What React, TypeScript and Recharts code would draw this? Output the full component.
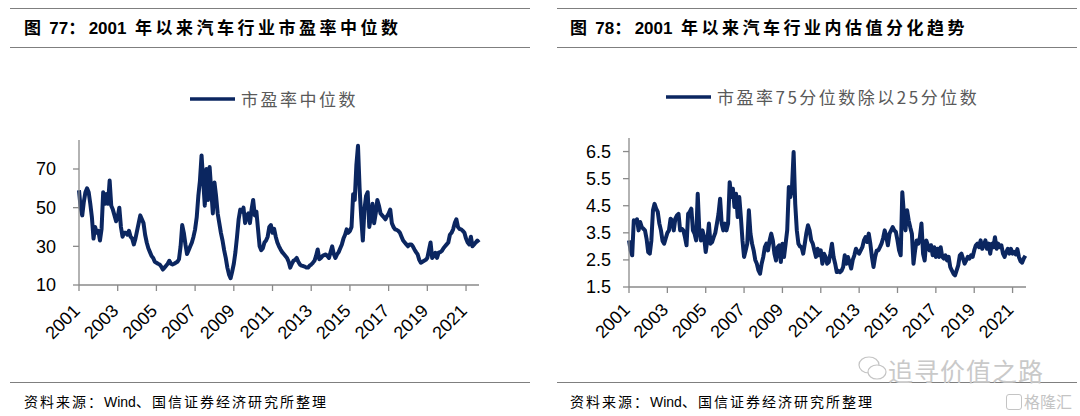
import React from 'react';
import { LineChart, Line, XAxis, YAxis, Legend } from 'recharts';

const START_YEAR = 2001;
const yearTicks = [2001, 2003, 2005, 2007, 2009, 2011, 2013, 2015, 2017, 2019, 2021];
const peTicks = [10, 30, 50, 70];
const spreadTicks = [1.5, 2.5, 3.5, 4.5, 5.5, 6.5];

// 汽车行业市盈率中位数 (monthly, from 2001-01)
const peMedian = [
  59, 50, 46, 53, 58, 60, 58, 52, 45, 34, 40, 37,
  38, 33, 39, 58, 52, 57, 52, 64, 51, 49, 46, 43,
  45, 50, 40, 35, 37, 37, 36, 38, 35, 34, 31, 34,
  38, 42, 46, 44, 42, 36, 32, 29, 27, 25, 24, 22,
  21.5, 21, 20.6, 19.5, 18, 19, 20, 21, 22.5, 21, 20.6, 21,
  21.5, 22, 23.3, 30, 41, 37, 31, 26, 28, 30, 32, 35,
  38.8, 45, 56, 64, 77, 64, 51, 70, 54, 71, 59, 47,
  63, 56, 47, 42, 37, 33, 28, 24, 19, 15.5, 13.5, 17,
  21, 27, 35, 44, 49, 48, 50, 42, 46, 47, 42, 49,
  54, 46, 48, 39, 30, 28, 29, 32, 33, 35, 40, 41,
  37, 39, 35, 32, 30, 28.4, 27, 26, 25, 24, 22, 19,
  21, 22.5, 23, 24, 22, 20.6, 20, 19.8, 19.5, 19, 19, 20,
  20.6, 21.5, 22.5, 25, 28.4, 23.3, 24, 25, 25.5, 25.8, 25, 24,
  27, 30, 26, 24, 25.8, 27, 29, 31, 34, 36, 38.8, 37,
  38, 40, 57, 54, 72, 82, 60, 45, 33, 49, 56, 58,
  40, 45, 52, 42, 47, 54, 51, 47, 46, 45, 44, 45.6,
  47, 49, 42, 40, 38.8, 38.5, 38, 37, 35, 33, 32, 31,
  30, 31, 31, 30, 28.4, 27, 25.8, 23, 21.5, 22, 22.5, 23,
  24, 28, 32, 24, 25, 26.7, 24, 26.7, 27, 27.6, 29, 30,
  31, 32, 36, 37, 38.8, 42, 44, 40, 39, 38.8, 38, 37,
  34, 32, 31, 35, 30, 31, 32, 33, 32,
];

// 市盈率75分位数除以25分位数 (monthly, from 2001-01)
const peSpread = [
  3.22, 2.85, 2.67, 3.96, 3.9, 4.0, 3.59, 3.9, 3.71, 3.65, 3.59, 3.28,
  2.79, 2.73, 3.22, 4.33, 4.57, 4.39, 4.27, 3.84, 3.59, 3.2, 3.1, 3.3,
  3.5, 3.59, 4.02, 3.96, 3.59, 4.02, 4.14, 4.2, 3.59, 3.65, 3.59, 3.34,
  3.04, 4.2, 4.27, 4.39, 3.59, 3.47, 3.22, 4.94, 3.59, 3.22, 3.59, 3.34,
  2.79, 3.22, 3.84, 3.1, 3.16, 3.34, 3.5, 3.84, 4.2, 4.76, 3.84, 3.59,
  3.84, 3.59, 3.84, 5.37, 4.82, 5.13, 4.45, 4.94, 4.08, 4.82, 4.08, 3.22,
  2.61, 2.85, 3.1, 4.33, 3.47, 3.1, 2.85, 2.5, 2.36, 2.11, 1.99, 2.36,
  2.61, 2.97, 3.1, 2.85, 3.22, 3.47, 3.22, 2.73, 2.48, 2.97, 3.04, 2.42,
  3.1, 2.61, 3.1, 3.6, 5.19, 4.82, 5.19, 6.48, 4.57, 3.59, 3.1, 3.0,
  2.97, 2.73, 3.1, 3.5, 3.78, 3.59, 3.22, 3.1, 2.85, 2.61, 2.91, 2.67,
  2.85, 2.36, 2.73, 2.61, 2.36, 2.42, 2.73, 3.1, 2.61, 2.36, 2.05, 2.1,
  2.05, 2.1, 2.24, 2.67, 2.36, 2.61, 2.4, 2.18, 2.5, 2.67, 2.91, 2.8,
  2.73, 2.85, 2.97, 3.22, 3.34, 3.16, 3.47, 3.1, 2.61, 2.24, 2.61, 2.85,
  2.85, 2.97, 3.1, 3.3, 3.59, 3.34, 3.04, 3.47, 3.59, 3.71, 3.59, 3.53,
  3.22, 2.85, 2.67, 5.0, 4.2, 3.59, 4.33, 3.96, 3.7, 3.47, 2.36, 2.85,
  3.22, 3.1, 3.34, 3.84, 2.73, 2.48, 3.22, 3.04, 2.85, 3.04, 2.67, 2.97,
  2.61, 2.91, 2.61, 2.97, 2.61, 2.55, 2.67, 2.48, 2.61, 2.24, 2.11, 1.99,
  1.93, 2.11, 2.3, 2.67, 2.73, 2.55, 2.36, 2.48, 2.61, 2.55, 2.67, 2.61,
  2.85, 3.04, 3.1, 2.97, 3.22, 2.91, 3.04, 3.22, 2.91, 3.1, 2.73, 3.1,
  2.97, 3.34, 2.91, 3.1, 2.97, 3.04, 2.73, 2.61, 2.79, 2.91, 2.73, 2.91,
  2.73, 2.8, 2.7, 2.9, 2.6, 2.45, 2.4, 2.55, 2.65,
];

const monthLabels = peMedian.map(
  (_, i) => `${START_YEAR + Math.floor(i / 12)}-${String((i % 12) + 1).padStart(2, '0')}`
);
const toYear = (label: string) => {
  const [y, m] = label.split('-').map(Number);
  return y + (m - 1) / 12;
};

const peData = monthLabels.map((d, i) => ({ date: d, t: toYear(d), value: peMedian[i] }));
const spreadData = monthLabels.map((d, i) => ({ date: d, t: toYear(d), value: peSpread[i] }));

const LINE = '#0b2660';
const AXIS = '#8a8a8a';
const NUM_FONT = '"Liberation Sans", Arial, sans-serif';
const CJK_FONT = '"Noto Sans CJK SC", sans-serif';
const MIX_FONT = '"Liberation Sans", Arial, "Noto Sans CJK SC", sans-serif';

const makeTick = (dx: number, dy: number) => (props: any) => {
  const { x, y, payload } = props;
  const ax = x + dx;
  const ay = y + dy;
  return (
    <text
      x={ax}
      y={ay}
      textAnchor="end"
      transform={`rotate(-45 ${ax} ${ay})`}
      fontSize={18}
      fontFamily={NUM_FONT}
      fill="#000"
    >
      {payload.value}
    </text>
  );
};

// letter spacing only on CJK runs, Latin runs kept tight
const Spaced = ({ text, cjk }: { text: string; cjk: number }) => (
  <>
    {text
      .split(/([\u0000-\u00ff\u2002]+)/)
      .filter((s) => s.length > 0)
      .map((seg, i) => (
        <span key={i} style={{ letterSpacing: /^[\u0000-\u00ff\u2002]+$/.test(seg) ? 0 : cjk }}>
          {seg}
        </span>
      ))}
  </>
);

const LegendContent = ({ label }: { label: string }) => (
  <div style={{ display: 'flex', alignItems: 'center', whiteSpace: 'nowrap', lineHeight: '20px' }}>
    <svg width={45} height={8} style={{ display: 'block' }}>
      <line x1={0} y1={4} x2={45} y2={4} stroke={LINE} strokeWidth={3.5} />
    </svg>
    <span style={{ marginLeft: 6, fontSize: 17, letterSpacing: 2.5, color: '#595959', fontFamily: CJK_FONT }}>
      {label}
    </span>
  </div>
);

const Rule = ({ left, top, width }: { left: number; top: number; width: number }) => (
  <div style={{ position: 'absolute', left, top, width, height: 1, background: '#7f7f7f' }} />
);

const titleStyle: React.CSSProperties = {
  position: 'absolute',
  top: 17,
  fontSize: 17,
  fontWeight: 700,
  lineHeight: '24px',
  whiteSpace: 'pre',
  color: '#000',
  fontFamily: MIX_FONT,
};

const sourceStyle: React.CSSProperties = {
  position: 'absolute',
  top: 392,
  fontSize: 14,
  lineHeight: '20px',
  whiteSpace: 'nowrap',
  color: '#000',
  fontFamily: MIX_FONT,
};

const axisProps = {
  axisLine: { stroke: AXIS, strokeWidth: 1.3 },
  tickLine: { stroke: AXIS, strokeWidth: 1.3 },
  tickSize: 6,
  interval: 0 as const,
};

export default function App() {
  return (
    <div
      style={{
        position: 'absolute',
        left: 0,
        top: 0,
        width: 1080,
        height: 416,
        background: '#fff',
        overflow: 'hidden',
      }}
    >
      <Rule left={10} top={8} width={520} />
      <Rule left={10} top={47} width={520} />
      <Rule left={557} top={8} width={520} />
      <Rule left={557} top={47} width={520} />
      <div style={{ ...titleStyle, left: 24 }}>
        <Spaced text={'图 77：2001\u2002年以来汽车行业市盈率中位数'} cjk={3.5} />
      </div>
      <div style={{ ...titleStyle, left: 570 }}>
        <Spaced text={'图 78：2001\u2002年以来汽车行业内估值分化趋势'} cjk={3.5} />
      </div>

      <div style={{ position: 'absolute', left: 0, top: 0 }}>
        <LineChart width={540} height={416} data={peData} margin={{ top: 140, right: 61, bottom: 91, left: 29 }}>
          <XAxis
            dataKey="t"
            type="number"
            domain={[2001, 2021.67]}
            ticks={yearTicks}
            height={40}
            tick={makeTick(2, 19)}
            {...axisProps}
          />
          <YAxis
            type="number"
            domain={[10, 85]}
            ticks={peTicks}
            width={50}
            tickMargin={17}
            tick={{ fontSize: 18, fill: '#000', fontFamily: NUM_FONT }}
            {...axisProps}
          />
          <Legend
            verticalAlign="middle"
            align="center"
            layout="horizontal"
            wrapperStyle={{ left: 190, top: 89, width: 300 }}
            content={() => <LegendContent label="市盈率中位数" />}
          />
          <Line
            type="linear"
            dataKey="value"
            name="市盈率中位数"
            stroke={LINE}
            strokeWidth={4}
            strokeLinejoin="round"
            dot={false}
            activeDot={false}
            isAnimationActive={false}
          />
        </LineChart>
      </div>

      <div style={{ position: 'absolute', left: 540, top: 0 }}>
        <LineChart width={540} height={416} data={spreadData} margin={{ top: 138, right: 54, bottom: 89, left: 39 }}>
          <XAxis
            dataKey="t"
            type="number"
            domain={[2001, 2021.7]}
            ticks={yearTicks}
            height={40}
            tick={makeTick(2, 16)}
            {...axisProps}
          />
          <YAxis
            type="number"
            domain={[1.5, 7]}
            ticks={spreadTicks}
            width={50}
            tickMargin={12}
            tick={{ fontSize: 18, fill: '#000', fontFamily: NUM_FONT }}
            tickFormatter={(v: number) => v.toFixed(1)}
            {...axisProps}
          />
          <Legend
            verticalAlign="middle"
            align="center"
            layout="horizontal"
            wrapperStyle={{ left: 126, top: 87, width: 400 }}
            content={() => <LegendContent label="市盈率75分位数除以25分位数" />}
          />
          <Line
            type="linear"
            dataKey="value"
            name="市盈率75分位数除以25分位数"
            stroke={LINE}
            strokeWidth={4}
            strokeLinejoin="round"
            dot={false}
            activeDot={false}
            isAnimationActive={false}
          />
        </LineChart>
      </div>

      <Rule left={10} top={382} width={520} />
      <Rule left={557} top={382} width={520} />
      <div style={{ ...sourceStyle, left: 24 }}>
        <Spaced text="资料来源：Wind、国信证券经济研究所整理" cjk={2} />
      </div>
      <div style={{ ...sourceStyle, left: 570 }}>
        <Spaced text="资料来源：Wind、国信证券经济研究所整理" cjk={2} />
      </div>

      <svg width={30} height={30} style={{ position: 'absolute', left: 858, top: 354 }}>
        <ellipse cx={11} cy={11} rx={10} ry={8} fill="none" stroke="#c4c4c4" strokeWidth={1.2} />
        <ellipse cx={19} cy={18} rx={9} ry={7} fill="#fff" stroke="#c4c4c4" strokeWidth={1.2} />
      </svg>
      <div
        style={{
          position: 'absolute',
          left: 888,
          top: 354,
          fontSize: 25,
          lineHeight: '32px',
          letterSpacing: 1,
          color: '#c9c9c9',
          fontFamily: CJK_FONT,
          whiteSpace: 'nowrap',
        }}
      >
        追寻价值之路
      </div>
      <div
        style={{
          position: 'absolute',
          left: 1006,
          top: 394,
          width: 14,
          height: 14,
          border: '1.5px solid #c4c4c4',
          borderRadius: 3,
        }}
      />
      <div
        style={{
          position: 'absolute',
          left: 1024,
          top: 390,
          fontSize: 16,
          lineHeight: '22px',
          color: '#c4c4c4',
          fontFamily: CJK_FONT,
          whiteSpace: 'nowrap',
        }}
      >
        格隆汇
      </div>
    </div>
  );
}
